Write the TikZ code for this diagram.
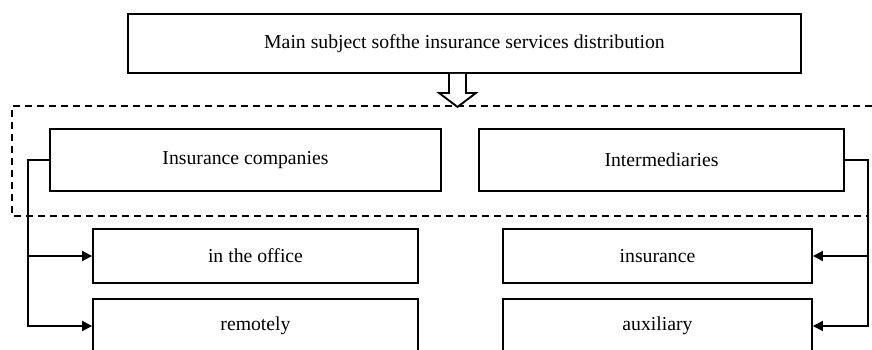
\documentclass[tikz,border=0pt]{standalone}
\usepackage{fontspec}
\setmainfont{Liberation Serif}
\usetikzlibrary{arrows.meta}
\begin{document}
\begin{tikzpicture}[x=0.75pt,y=-0.75pt,line width=1.4pt,
    box/.style 2 args={draw,inner sep=0pt,minimum width=#1*0.75pt,
      minimum height=#2*0.75pt,font=\fontsize{14.8}{17}\selectfont},
    connarrow/.style={-{Triangle[length=7.5pt,width=7.5pt]}},
    frame/.style={dash pattern=on 5.25pt off 3.75pt}]
    \clip (0,0) rectangle (872,350);
    \node [box={673}{59}] (main) at (464.5,43.5)
      {Main subject softhe insurance services distribution};
    \node [box={391}{62}] (comp) at (245.5,160) {Insurance companies};
    \node [box={365}{62}] (interm) at (661.5,160) {Intermediaries};
    \node [box={325}{54}] (office) at (255.5,256) {in the office};
    \node [box={325}{54}] (remote) at (255.5,326) {remotely};
    \node [box={309}{54}] (insur) at (657.5,256) {insurance};
    \node [box={309}{54}] (aux) at (657.5,326) {auxiliary};
    \draw [frame] (872,106) -| (12,216) -- (868,216);
    \coordinate (arr) at ([xshift=-5.25pt]main.south);
    \draw [fill=white,line join=miter] (arr) ++(-8.5,0) -- ++(0,19)
      -- ++(-10,0) -- ++(18.5,14) -- ++(18.5,-14) -- ++(-10,0) -- ++(0,-19);
    \coordinate (lbus) at (28,160);
    \coordinate (rbus) at (868,160);
    \draw [connarrow] (comp.west) -- (lbus) |- (remote.west);
    \draw [connarrow] (lbus |- office.west) -- (office.west);
    \draw [connarrow] (interm.east) -- (rbus) |- (aux.east);
    \draw [connarrow] (rbus |- insur.east) -- (insur.east);
  \end{tikzpicture}
\end{document}
